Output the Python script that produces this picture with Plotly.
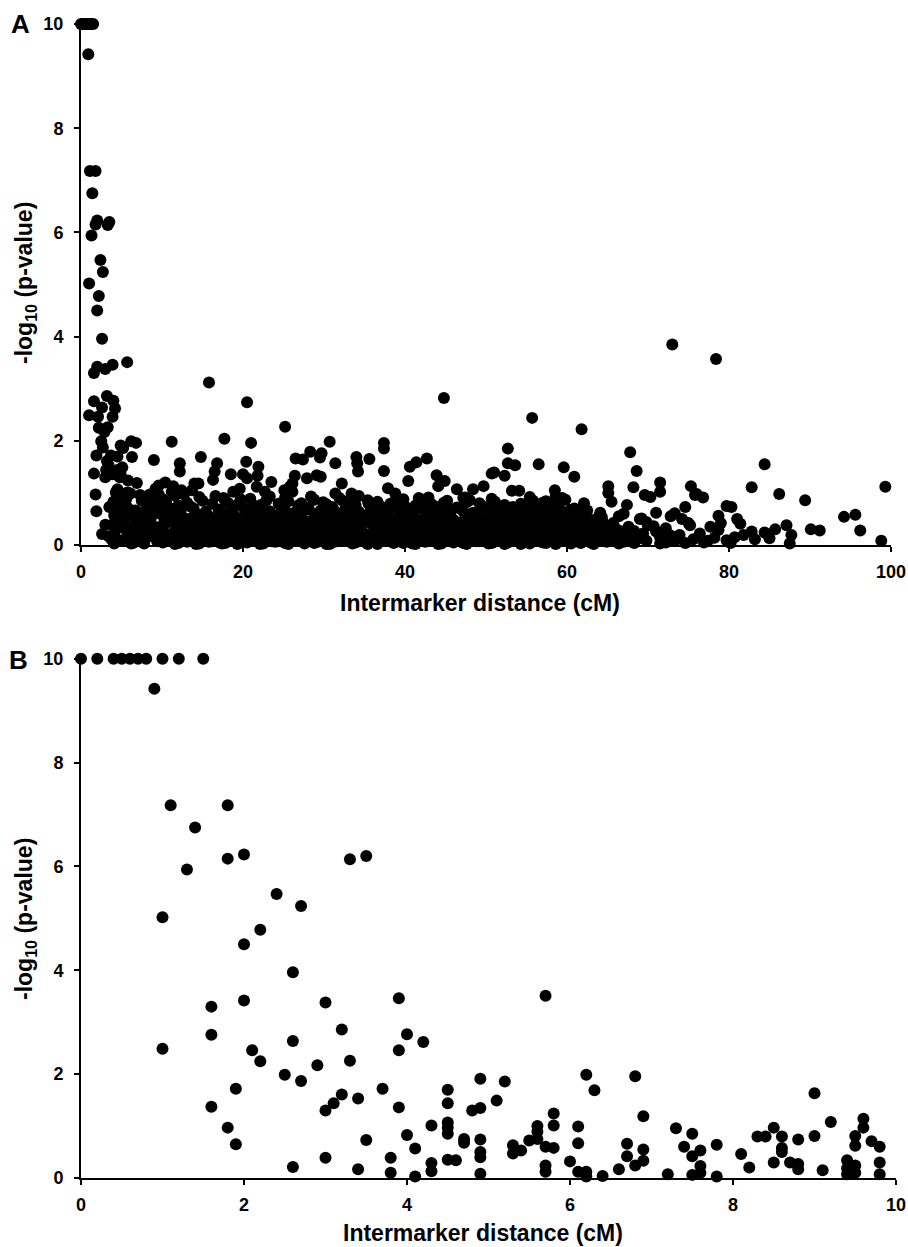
import plotly.graph_objects as go

# ---------------- Panel B data (0-10 cM), also the left part of panel A ----------------
b_points = [
    (0.0, 10), (0.2, 10), (0.4, 10), (0.5, 10), (0.6, 10), (0.7, 10), (0.8, 10), (1.0, 10), (1.2, 10), (1.5, 10),
    (0.9, 9.42), (1.1, 7.18), (1.8, 7.18), (1.4, 6.75), (1.8, 6.15), (2.0, 6.23), (1.3, 5.94), (3.3, 6.14),
    (3.5, 6.2), (2.4, 5.47), (2.7, 5.24), (1.0, 5.02), (2.2, 4.78), (2.0, 4.5), (2.6, 3.96), (1.6, 3.3),
    (2.0, 3.42), (3.0, 3.38), (3.9, 3.46), (1.6, 2.76), (3.2, 2.86), (4.0, 2.77), (2.6, 2.64), (4.2, 2.62),
    (1.0, 2.49), (2.1, 2.46), (3.9, 2.46), (2.2, 2.25), (3.3, 2.26), (2.9, 2.17), (2.5, 1.99), (2.7, 1.87),
    (1.9, 1.72), (3.7, 1.72), (4.5, 1.70), (3.2, 1.61), (3.4, 1.53), (4.5, 1.44), (3.1, 1.44), (1.6, 1.37),
    (3.9, 1.36), (3.0, 1.30), (4.3, 1.01), (4.5, 1.07), (4.5, 0.97), (4.5, 0.85), (1.8, 0.97), (4.0, 0.83),
    (1.9, 0.65), (3.5, 0.73), (4.1, 0.57), (3.0, 0.39), (3.8, 0.39), (4.3, 0.29), (4.5, 0.35), (4.6, 0.34),
    (2.6, 0.21), (3.4, 0.17), (3.8, 0.10), (4.3, 0.13), (4.1, 0.03),
    (4.9, 1.91), (5.2, 1.86), (5.1, 1.49), (4.8, 1.30), (4.9, 1.35), (6.2, 1.99), (6.3, 1.69), (6.8, 1.96),
    (5.7, 3.51), (6.9, 1.19), (5.8, 1.24), (5.8, 1.01), (5.6, 1.0), (5.6, 0.89), (6.1, 0.99), (7.3, 0.96),
    (4.7, 0.75), (4.7, 0.68), (4.9, 0.74), (5.3, 0.63), (5.3, 0.47), (5.4, 0.53), (5.5, 0.72), (5.6, 0.75),
    (5.7, 0.6), (5.8, 0.58), (6.1, 0.67), (6.7, 0.66), (6.9, 0.55), (7.5, 0.85), (7.4, 0.6), (7.6, 0.53),
    (7.8, 0.64), (4.9, 0.5), (4.9, 0.4), (4.9, 0.08), (5.7, 0.24), (5.7, 0.12), (6.0, 0.32), (6.1, 0.12),
    (6.2, 0.12), (6.2, 0.03), (6.4, 0.04), (6.6, 0.17), (6.7, 0.42), (6.8, 0.24), (6.9, 0.33), (7.2, 0.07),
    (7.5, 0.42), (7.5, 0.06), (7.6, 0.23), (7.6, 0.1), (7.8, 0.03), (8.1, 0.46), (8.2, 0.2), (8.3, 0.8),
    (8.4, 0.8), (8.5, 0.97), (8.5, 0.30), (8.6, 0.8), (8.6, 0.58), (8.6, 0.5), (8.7, 0.3), (8.8, 0.27),
    (8.8, 0.17), (8.8, 0.74), (9.0, 1.63), (9.0, 0.81), (9.2, 1.08), (9.1, 0.15), (9.4, 0.34), (9.4, 0.19),
    (9.4, 0.07), (9.5, 0.81), (9.5, 0.62), (9.5, 0.24), (9.5, 0.1), (9.6, 1.14), (9.6, 0.97), (9.7, 0.71),
    (9.8, 0.6), (9.8, 0.3), (9.8, 0.07),
]

# ---------------- Panel A extra data (10-100 cM), readable points ----------------
a_sparse_points = [
    (15.8, 3.12), (20.5, 2.74), (25.2, 2.27), (11.2, 1.98), (17.7, 2.04), (21.0, 1.96), (14.8, 1.69),
    (12.2, 1.57), (12.2, 1.41), (16.8, 1.57), (16.5, 1.41), (16.3, 1.25), (18.5, 1.36), (20.4, 1.6),
    (20.0, 1.36), (20.5, 1.28), (21.9, 1.5), (21.8, 1.33), (21.7, 1.12), (22.7, 1.02), (23.5, 1.21),
    (26.5, 1.66), (26.4, 1.33), (26.1, 1.18), (26.1, 1.02), (25.1, 0.73), (18.8, 1.02), (19.6, 1.08),
    (17.6, 0.9), (14.0, 1.18), (13.7, 1.05), (14.5, 1.18), (10.4, 1.2), (11.4, 1.13), (12.4, 1.05),
    (22.2, 0.77), (25.1, 1.05),
    (44.8, 2.82), (30.7, 1.98), (37.4, 1.96), (37.4, 1.85), (27.4, 1.64), (28.3, 1.79), (29.7, 1.76),
    (29.5, 1.68), (31.4, 1.57), (34.0, 1.69), (34.1, 1.57), (35.6, 1.65), (34.2, 1.41), (37.4, 1.42),
    (27.9, 1.28), (29.1, 1.34), (29.6, 1.31), (32.2, 1.18), (31.4, 0.99), (33.4, 0.99), (33.4, 0.80),
    (40.6, 1.5), (41.4, 1.59), (42.7, 1.66), (40.4, 1.23), (43.9, 1.34), (44.9, 1.23), (44.1, 1.13),
    (37.9, 1.09), (38.8, 0.99), (35.5, 0.79), (35.8, 0.67), (42.1, 0.86), (46.4, 1.07), (48.4, 1.07),
    (49.7, 1.13), (47.4, 0.91), (44.5, 0.73), (45.6, 0.67), (50.7, 1.37), (28.1, 0.70), (31.0, 0.73),
    (25.8, 1.12),
    (55.7, 2.44), (61.8, 2.22), (52.7, 1.85), (52.7, 1.57), (53.6, 1.53), (56.5, 1.55), (59.6, 1.49),
    (60.9, 1.31), (51.0, 1.39), (52.3, 1.33), (53.2, 1.04), (54.1, 1.04), (55.8, 0.85), (58.5, 1.05),
    (59.4, 0.9), (62.1, 0.8), (63.9, 0.54), (47.2, 0.9), (57.1, 0.74), (67.8, 1.78), (68.6, 1.42),
    (68.2, 1.11), (71.5, 1.2), (71.5, 1.02), (69.6, 0.96), (70.3, 0.92), (75.3, 1.13), (75.8, 0.96),
    (58.6, 0.93), (65.1, 1.13), (65.1, 1.0), (65.5, 0.83), (51.1, 0.73), (53.3, 0.73), (59.8, 0.87),
    (60.4, 0.67), (67.4, 0.77), (74.6, 0.73), (73.3, 0.61), (64.3, 0.54), (69.2, 0.51), (75.2, 0.38),
    (73.0, 3.85), (78.4, 3.57), (84.4, 1.55), (82.8, 1.11), (86.2, 0.98), (89.4, 0.86), (99.3, 1.12),
    (94.2, 0.54), (95.6, 0.58), (96.2, 0.28), (90.1, 0.3), (91.2, 0.28), (98.8, 0.08), (76.0, 0.98),
    (76.8, 0.91), (79.7, 0.75), (80.3, 0.73), (78.7, 0.56), (79.0, 0.42), (81.0, 0.5), (81.4, 0.41),
    (74.2, 0.5), (75.0, 0.42), (67.0, 0.6), (69.0, 0.5), (70.0, 0.38), (70.7, 0.36), (77.7, 0.35),
    (82.8, 0.26), (83.2, 0.11), (84.4, 0.24), (85.7, 0.3), (87.1, 0.38), (87.7, 0.19), (87.5, 0.03),
    (85.0, 0.13), (80.7, 0.15), (78.7, 0.29), (76.4, 0.22), (75.6, 0.11), (73.9, 0.19), (73.3, 0.08),
    (71.5, 0.15), (71.5, 0.03), (69.4, 0.22), (68.6, 0.10), (67.0, 0.15), (67.0, 0.06), (64.5, 0.19),
    (63.9, 0.08), (65.3, 0.32), (77.4, 0.08), (79.7, 0.09),
]

# ---------------- Panel A dense band (estimated columns of overlapping points) ----------------
band_dist = [10.1, 10.8, 11.6, 12.3, 13.1, 13.9, 14.6, 15.4, 16.2, 17.0, 17.8, 18.6, 19.3, 20.1, 20.9,
             21.7, 22.5, 23.3, 24.0, 24.8, 25.6, 26.4, 27.2, 28.0, 28.8, 29.6, 30.3, 31.1, 31.9, 32.7,
             33.5, 34.3, 35.0, 35.8, 36.6, 37.4, 38.2, 39.0, 39.8, 40.5, 41.3, 42.1, 42.9, 43.7, 44.5,
             45.2, 46.0, 46.8, 47.6, 48.4, 49.2, 50.0, 50.7, 51.5, 52.3, 53.1, 53.9, 54.7, 55.4, 56.2,
             57.0, 57.8, 58.6, 59.4, 60.1, 60.9, 61.7, 62.5, 63.3, 64.1, 64.9, 65.7, 66.4, 67.6, 68.3,
             69.8, 71.0, 72.2, 72.8, 74.6, 76.9, 78.2, 80.2, 81.8]
band_logp = [
    [0.05, 0.32, 0.61, 0.88], [0.15, 0.44, 0.72], [0.02, 0.27, 0.53, 0.95], [0.12, 0.38, 0.66],
    [0.06, 0.22, 0.49, 0.81], [0.16, 0.41, 0.70], [0.03, 0.29, 0.57, 0.92], [0.11, 0.36, 0.64],
    [0.07, 0.24, 0.51, 0.79], [0.18, 0.43, 0.68], [0.04, 0.31, 0.58, 0.86], [0.13, 0.39, 0.63],
    [0.02, 0.26, 0.52, 0.77], [0.15, 0.42, 0.71], [0.08, 0.33, 0.60, 0.89], [0.19, 0.47, 0.74],
    [0.03, 0.28, 0.55], [0.12, 0.37, 0.65, 0.93], [0.06, 0.23, 0.50], [0.17, 0.41, 0.69],
    [0.02, 0.30, 0.56, 0.84], [0.14, 0.38, 0.62], [0.07, 0.25, 0.53, 0.80], [0.18, 0.44, 0.72],
    [0.04, 0.32, 0.59, 0.87], [0.13, 0.40, 0.66], [0.02, 0.27, 0.51, 0.78], [0.16, 0.43, 0.70],
    [0.08, 0.34, 0.61, 0.90], [0.19, 0.46, 0.73], [0.03, 0.29, 0.54], [0.11, 0.37, 0.64, 0.94],
    [0.06, 0.22, 0.49], [0.17, 0.42, 0.68], [0.02, 0.31, 0.57, 0.83], [0.14, 0.39, 0.63],
    [0.07, 0.26, 0.52, 0.79], [0.18, 0.45, 0.71], [0.04, 0.33, 0.60, 0.88], [0.12, 0.40, 0.67],
    [0.02, 0.28, 0.50, 0.76], [0.15, 0.44, 0.69], [0.09, 0.35, 0.62, 0.91], [0.19, 0.47, 0.74],
    [0.03, 0.30, 0.55], [0.11, 0.36, 0.65, 0.85], [0.05, 0.23, 0.48], [0.16, 0.41, 0.70],
    [0.02, 0.32, 0.58, 0.82], [0.13, 0.38, 0.62], [0.07, 0.27, 0.53, 0.80], [0.18, 0.43, 0.72],
    [0.04, 0.31, 0.59, 0.89], [0.12, 0.39, 0.66], [0.02, 0.25, 0.51, 0.77], [0.15, 0.42, 0.68],
    [0.08, 0.34, 0.61], [0.19, 0.46, 0.75], [0.03, 0.28, 0.54, 0.92], [0.11, 0.37, 0.63],
    [0.05, 0.22, 0.49, 0.81], [0.16, 0.41, 0.67], [0.02, 0.30, 0.57, 0.78], [0.13, 0.38, 0.64],
    [0.07, 0.26, 0.52], [0.18, 0.44, 0.70], [0.04, 0.32, 0.59], [0.12, 0.40, 0.66],
    [0.02, 0.27, 0.48], [0.15, 0.36, 0.62], [0.06, 0.25], [0.11, 0.42], [0.03, 0.28, 0.55],
    [0.19, 0.35], [0.04, 0.27], [0.08, 0.44], [0.26, 0.62], [0.05, 0.32], [0.18, 0.55],
    [0.04], [0.05], [0.14], [0.04], [0.19],
]

band2_dist = [10.5, 11.2, 12.0, 12.7, 13.5, 14.2, 15.0, 15.8, 16.6, 17.4, 18.2, 18.9, 19.7, 20.5, 21.3,
              22.1, 22.9, 23.6, 24.4, 25.2, 26.0, 26.8, 27.6, 28.4, 29.2, 29.9, 30.7, 31.5, 32.3, 33.1,
              33.9, 34.6, 35.4, 36.2, 37.0, 37.8, 38.6, 39.4, 40.1, 40.9, 41.7, 42.5, 43.3, 44.1, 44.8,
              45.6, 46.4, 47.2, 48.0, 48.8, 49.6, 50.3, 51.1, 51.9, 52.7, 53.5, 54.3, 55.0, 55.8, 56.6,
              57.4, 58.2, 59.0, 59.7, 60.5, 61.3, 62.1, 62.9, 63.7]
band2_logp = [
    [0.09, 0.46, 0.83], [0.21, 0.58, 1.02], [0.04, 0.35, 0.76], [0.19, 0.52, 0.97], [0.10, 0.33, 0.74],
    [0.02, 0.27, 0.60], [0.15, 0.48, 0.85], [0.06, 0.31, 0.55], [0.12, 0.37, 0.94], [0.03, 0.29, 0.62],
    [0.20, 0.49, 0.80], [0.08, 0.34, 0.57], [0.14, 0.45, 0.88], [0.05, 0.21, 0.56], [0.11, 0.39, 0.75],
    [0.02, 0.33, 0.62], [0.17, 0.44, 0.86], [0.07, 0.25, 0.58], [0.13, 0.36, 0.79], [0.04, 0.47, 0.91],
    [0.18, 0.34, 0.60], [0.09, 0.28, 0.76], [0.03, 0.42, 0.66], [0.15, 0.37, 0.93], [0.06, 0.24, 0.55],
    [0.11, 0.48, 0.82], [0.02, 0.35, 0.63], [0.19, 0.29, 0.57], [0.08, 0.46, 0.85], [0.14, 0.33, 0.61],
    [0.05, 0.41, 0.77], [0.16, 0.26, 0.58], [0.02, 0.44, 0.86], [0.10, 0.32, 0.55], [0.07, 0.49, 0.74],
    [0.17, 0.25, 0.61], [0.04, 0.38, 0.82], [0.12, 0.30, 0.57], [0.09, 0.45, 0.73], [0.03, 0.22, 0.64],
    [0.18, 0.36, 0.90], [0.06, 0.27, 0.53], [0.13, 0.48, 0.78], [0.02, 0.33, 0.60], [0.15, 0.42, 0.81],
    [0.08, 0.25, 0.57], [0.11, 0.37, 0.72], [0.04, 0.46, 0.65], [0.19, 0.29, 0.86], [0.07, 0.34, 0.58],
    [0.12, 0.47, 0.74], [0.03, 0.23, 0.62], [0.16, 0.40, 0.83], [0.09, 0.31, 0.56], [0.05, 0.44, 0.70],
    [0.14, 0.27, 0.61], [0.02, 0.39, 0.79], [0.17, 0.33, 0.55], [0.08, 0.46, 0.71], [0.11, 0.24, 0.60],
    [0.04, 0.37, 0.84], [0.18, 0.29, 0.53], [0.06, 0.43, 0.72], [0.13, 0.35, 0.58], [0.03, 0.26, 0.67],
    [0.15, 0.45, 0.61], [0.09, 0.30, 0.50], [0.05, 0.22, 0.47], [0.12, 0.38],
]

band3_dist = [10.3, 11.4, 12.5, 13.6, 14.8, 15.9, 17.1, 18.0, 19.0, 20.3, 21.2, 22.4, 23.5, 24.6, 25.8,
              26.9, 28.1, 29.0, 30.0, 31.3, 32.2, 33.4, 34.5, 35.6, 36.8, 37.9, 39.1, 40.0, 41.0, 42.3,
              43.2, 44.4, 45.5, 46.6, 47.8, 48.9, 50.1, 51.0, 52.0, 53.3, 54.2, 55.4, 56.5, 57.6, 58.8,
              59.9, 61.1, 62.0, 63.0, 64.4, 65.9, 66.8]
band3_logp = [
    [0.20, 0.48], [0.10, 0.55], [0.17, 0.42], [0.08, 0.51], [0.22, 0.46], [0.13, 0.40], [0.05, 0.54],
    [0.19, 0.35], [0.11, 0.45], [0.24, 0.53], [0.09, 0.38], [0.16, 0.50], [0.21, 0.44], [0.12, 0.57],
    [0.07, 0.41], [0.23, 0.49], [0.14, 0.36], [0.10, 0.53], [0.18, 0.45], [0.06, 0.40], [0.21, 0.55],
    [0.12, 0.47], [0.16, 0.38], [0.09, 0.52], [0.22, 0.44], [0.13, 0.36], [0.07, 0.49], [0.20, 0.56],
    [0.11, 0.41], [0.17, 0.50], [0.24, 0.39], [0.09, 0.47], [0.15, 0.53], [0.21, 0.35], [0.10, 0.44],
    [0.18, 0.51], [0.13, 0.40], [0.06, 0.48], [0.22, 0.55], [0.11, 0.37], [0.17, 0.46], [0.08, 0.52],
    [0.20, 0.42], [0.14, 0.50], [0.10, 0.36], [0.23, 0.47], [0.12, 0.41], [0.18, 0.54], [0.07, 0.38],
    [0.15, 0.45], [0.21, 0.33], [0.10, 0.24],
]

x_ticks_a = [0, 20, 40, 60, 80, 100]
x_ticks_b = [0, 2, 4, 6, 8, 10]
y_ticks = [0, 2, 4, 6, 8, 10]

# ---------------- build series ----------------
b_x = [p[0] for p in b_points]
b_y = [p[1] for p in b_points]
a_x = b_x + [p[0] for p in a_sparse_points]
a_y = b_y + [p[1] for p in a_sparse_points]
for dists, logps in ((band_dist, band_logp), (band2_dist, band2_logp), (band3_dist, band3_logp)):
    for xv, ys in zip(dists, logps):
        for yv in ys:
            a_x.append(xv)
            a_y.append(yv)

W, H = 908, 1247
ML, MR, MT, MB = 81, 12, 24, 69
PW = W - ML - MR
PH = H - MT - MB


def px_x(p):
    return (p - ML) / PW


def px_y(p):
    return (H - MB - p) / PH


marker = dict(color="black", size=12, line=dict(width=0))
fig = go.Figure()
fig.add_trace(go.Scatter(x=a_x, y=a_y, mode="markers", marker=marker, xaxis="x", yaxis="y",
                         cliponaxis=False, showlegend=False))
fig.add_trace(go.Scatter(x=b_x, y=b_y, mode="markers", marker=marker, xaxis="x2", yaxis="y2",
                         cliponaxis=False, showlegend=False))

FONT = "Liberation Sans, Arial, Helvetica, sans-serif"
tickfont = dict(family=FONT, size=18, color="black", weight="bold")
axis_common = dict(showline=True, linecolor="black", linewidth=2, ticks="outside", ticklen=5,
                   tickwidth=2, tickcolor="black", showgrid=False, zeroline=False, tickfont=tickfont)

fig.update_layout(
    width=W, height=H, autosize=False,
    margin=dict(l=ML, r=MR, t=MT, b=MB, autoexpand=False),
    paper_bgcolor="white", plot_bgcolor="white",
    xaxis=dict(domain=[0, (891 - ML) / PW], range=[0, 100], tickvals=x_ticks_a, anchor="y",
               ticklabelstandoff=4, **axis_common),
    yaxis=dict(domain=[px_y(545), 1], range=[0, 10], tickvals=y_ticks, anchor="x",
               ticklabelstandoff=7, **axis_common),
    xaxis2=dict(domain=[0, 1], range=[0, 10], tickvals=x_ticks_b, anchor="y2",
                ticklabelstandoff=4, **axis_common),
    yaxis2=dict(domain=[0, px_y(658.7)], range=[0, 10], tickvals=y_ticks, anchor="x2",
                ticklabelstandoff=7, **axis_common),
)

title_font = dict(family=FONT, size=23, color="black", weight="bold")
ann = []
ann.append(dict(text="Intermarker distance (cM)", x=px_x(480), y=px_y(603), xref="paper", yref="paper",
                showarrow=False, font=title_font, xanchor="center", yanchor="middle"))
ann.append(dict(text="Intermarker distance (cM)", x=px_x(483), y=px_y(1233), xref="paper", yref="paper",
                showarrow=False, font=title_font, xanchor="center", yanchor="middle"))
ylab = "-log<sub>10</sub> (p-value)"
ann.append(dict(text=ylab, x=px_x(25), y=px_y(283), xref="paper", yref="paper", textangle=-90,
                showarrow=False, font=title_font, xanchor="center", yanchor="middle"))
ann.append(dict(text=ylab, x=px_x(25), y=px_y(919), xref="paper", yref="paper", textangle=-90,
                showarrow=False, font=title_font, xanchor="center", yanchor="middle"))
letter_font = dict(family=FONT, size=26, color="black", weight="bold")
ann.append(dict(text="A", x=px_x(21), y=px_y(24), xref="paper", yref="paper", showarrow=False,
                font=letter_font, xanchor="center", yanchor="middle"))
ann.append(dict(text="B", x=px_x(19), y=px_y(660), xref="paper", yref="paper", showarrow=False,
                font=letter_font, xanchor="center", yanchor="middle"))
fig.update_layout(annotations=ann)

fig.write_html(
    "out.html",
    config={"responsive": False, "displayModeBar": False},
    post_script="document.body.style.margin='0';document.body.style.overflow='hidden';",
)
